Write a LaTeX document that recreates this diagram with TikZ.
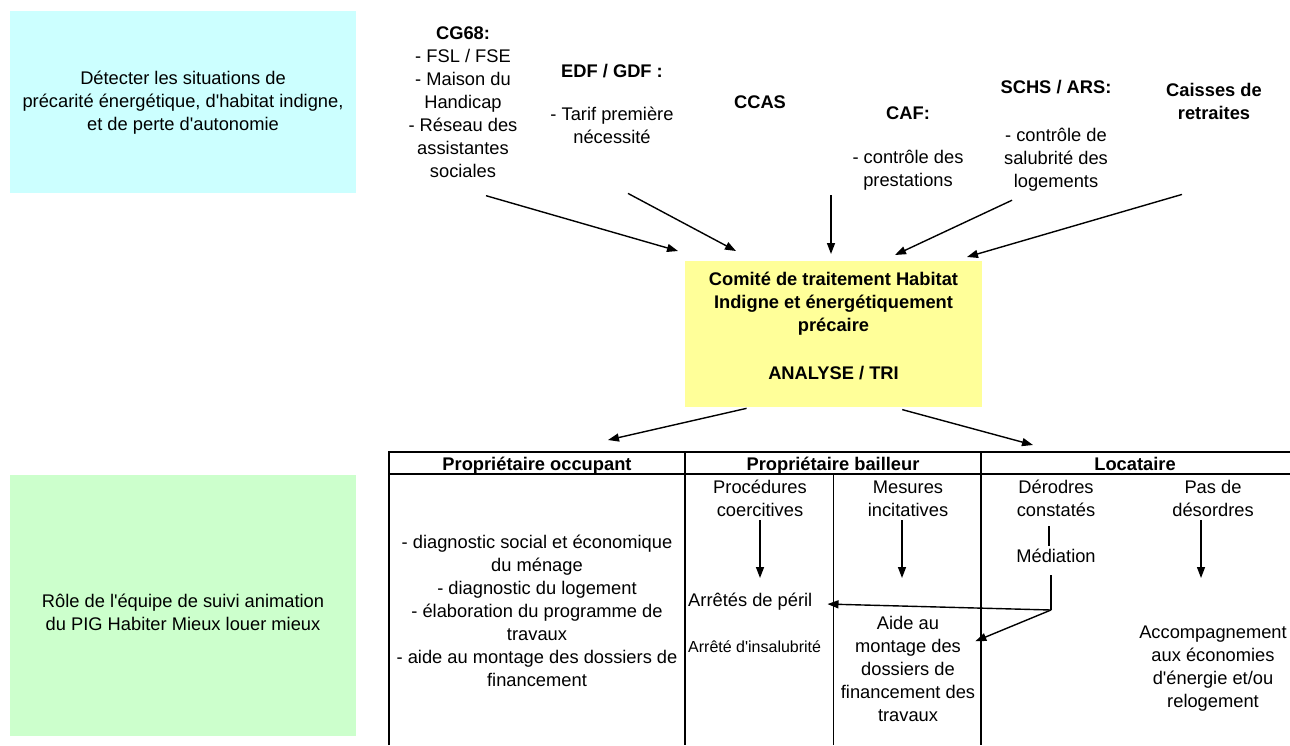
\documentclass[tikz,border=0pt]{standalone}
\usepackage{fontspec}
\setmainfont{Liberation Sans}[Ligatures=TeXOff]
\usetikzlibrary{arrows.meta}
\definecolor{detectfill}{HTML}{CCFFFF}
\definecolor{comitefill}{HTML}{FFFF99}
\definecolor{rolefill}{HTML}{CCFFCC}
\newcommand{\bodysize}{\fontsize{18.3}{23}\selectfont}
\tikzset{
  lbl/.style={align=center, inner sep=0pt, font=\bodysize},
  blbl/.style={lbl, font=\bodysize\bfseries},
  head/.style={blbl, anchor=base},
  panel/.style={inner sep=0pt, outer sep=0pt},
  arr/.style={-{Triangle[length=11pt,width=8pt]}, line width=1.4pt},
  link/.style={line width=1.2pt},
  rule/.style={line width=2pt},
  thinrule/.style={line width=1pt},
}
\begin{document}
\begin{tikzpicture}[x=1pt, y=-1pt]
      \useasboundingbox (0,0) rectangle (1290,745);
      \node[panel, fill=detectfill, minimum width=346pt, minimum height=182pt] (detect) at (183,102) {};
      \node[lbl] (detecttext) at (183,103) {Détecter les situations de\\précarité énergétique, d'habitat indigne,\\et de perte d'autonomie};
      \node[panel, fill=rolefill, minimum width=346pt, minimum height=261pt] (role) at (183,605.5) {};
      \node[lbl] (roletext) at (183,612.5) {Rôle de l'équipe de suivi animation\\du PIG Habiter Mieux louer mieux};
      \node[panel, fill=comitefill, minimum width=297pt, minimum height=146pt] (comite) at (833.5,334) {};
      \node[blbl] (comitetext) at (833.5,326) {Comité de traitement Habitat\\Indigne et énergétiquement\\précaire\\[25pt]ANALYSE / TRI};
      \node[lbl] (cg68) at (463,102) {\textbf{CG68:}\\- FSL / FSE\\- Maison du\\Handicap\\- Réseau des\\assistantes\\sociales};
      \node[lbl] (edf) at (612,103.5) {\textbf{EDF / GDF :}\\[20pt]- Tarif première\\nécessité};
      \node[blbl] (ccas) at (760,102) {CCAS};
      \node[lbl] (caf) at (908,148.5) {\textbf{CAF:}\\[21pt]- contrôle des\\prestations};
      \node[lbl] (schs) at (1056,135.5) {\textbf{SCHS / ARS:}\\[25pt]- contrôle de\\salubrité des\\logements};
      \node[blbl] (caisses) at (1214,101) {Caisses de\\retraites};
      \coordinate (in1) at (678,251);
      \coordinate (in2) at (736,251);
      \coordinate (in3) at (831,254);
      \coordinate (in4) at (895,255);
      \coordinate (in5) at (967,257);
      \draw[arr] ([xshift=23pt,yshift=-18pt]cg68.south) -- (in1);
      \draw[arr] ([xshift=16pt,yshift=-50pt]edf.south) -- (in2);
      \draw[arr] ([xshift=-77pt,yshift=-5pt]caf.south) -- (in3);
      \draw[arr] ([xshift=-44pt,yshift=-9pt]schs.south) -- (in4);
      \draw[arr] ([xshift=-32pt,yshift=-75pt]caisses.south) -- (in5);
      \coordinate (toPO) at (608,440);
      \coordinate (toLoc) at (1033,445);
      \draw[arr, shorten <=6pt] (comite.222) -- (toPO);
      \draw[arr, shorten <=10pt] (comite.309) -- (toLoc);
      \draw[rule] (389,745) -- (389,452) -- (1290,452);
      \draw[rule] (389,474) -- (1290,474);
      \draw[rule] (685,452) -- (685,745);
      \draw[rule] (981,452) -- (981,745);
      \draw[thinrule] (833,474) -- (833,745);
      \node[head] (po) at (537,470) {Propriétaire occupant};
      \node[head] (pb) at (833,470) {Propriétaire bailleur};
      \node[head] (loc) at (1135,470) {Locataire};
      \node[lbl] (pobody) at (537,611) {- diagnostic social et économique\\du ménage\\- diagnostic du logement\\- élaboration du programme de\\travaux\\- aide au montage des dossiers de\\financement};
      \node[lbl] (coerc) at (760,498.5) {Procédures\\coercitives};
      \node[lbl] (incit) at (908,498.5) {Mesures\\incitatives};
      \node[lbl] (derodres) at (1056,498.5) {Dérodres\\constatés};
      \node[lbl] (pasdes) at (1213,498.5) {Pas de\\désordres};
      \node[lbl] (mediation) at (1056,556) {Médiation};
      \node[lbl, anchor=west] (peril) at (688,602) {Arrêtés de péril};
      \node[lbl, anchor=west, font=\fontsize{16}{19}\selectfont] (insal) at (688,647) {Arrêté d'insalubrité};
      \node[lbl] (aide) at (908,669) {Aide au\\montage des\\dossiers de\\financement des\\travaux};
      \node[lbl] (accomp) at (1213,669) {Accompagnement\\aux économies\\d'énergie et/ou\\relogement};
      \coordinate (c1) at (760,578);
      \coordinate (c2) at (902,578);
      \coordinate (c3) at (1201,578);
      \coordinate (m) at (1051,610);
      \draw[arr, shorten <=3pt] (coerc.south) -- (c1);
      \draw[arr, shorten <=3pt] (coerc.south -| c2) -- (c2);
      \draw[arr, shorten <=3pt] (pasdes.south -| c3) -- (c3);
      \draw[link, shorten <=9pt, shorten >=3pt] ([xshift=-7pt]derodres.south) -- ([xshift=-7pt]mediation.north);
      \draw[link, shorten <=12pt] (mediation.south -| m) -- (m);
      \draw[arr, shorten >=15pt] (m) -- (peril);
      \draw[arr] (m) -- (aide);
\end{tikzpicture}
\end{document}
